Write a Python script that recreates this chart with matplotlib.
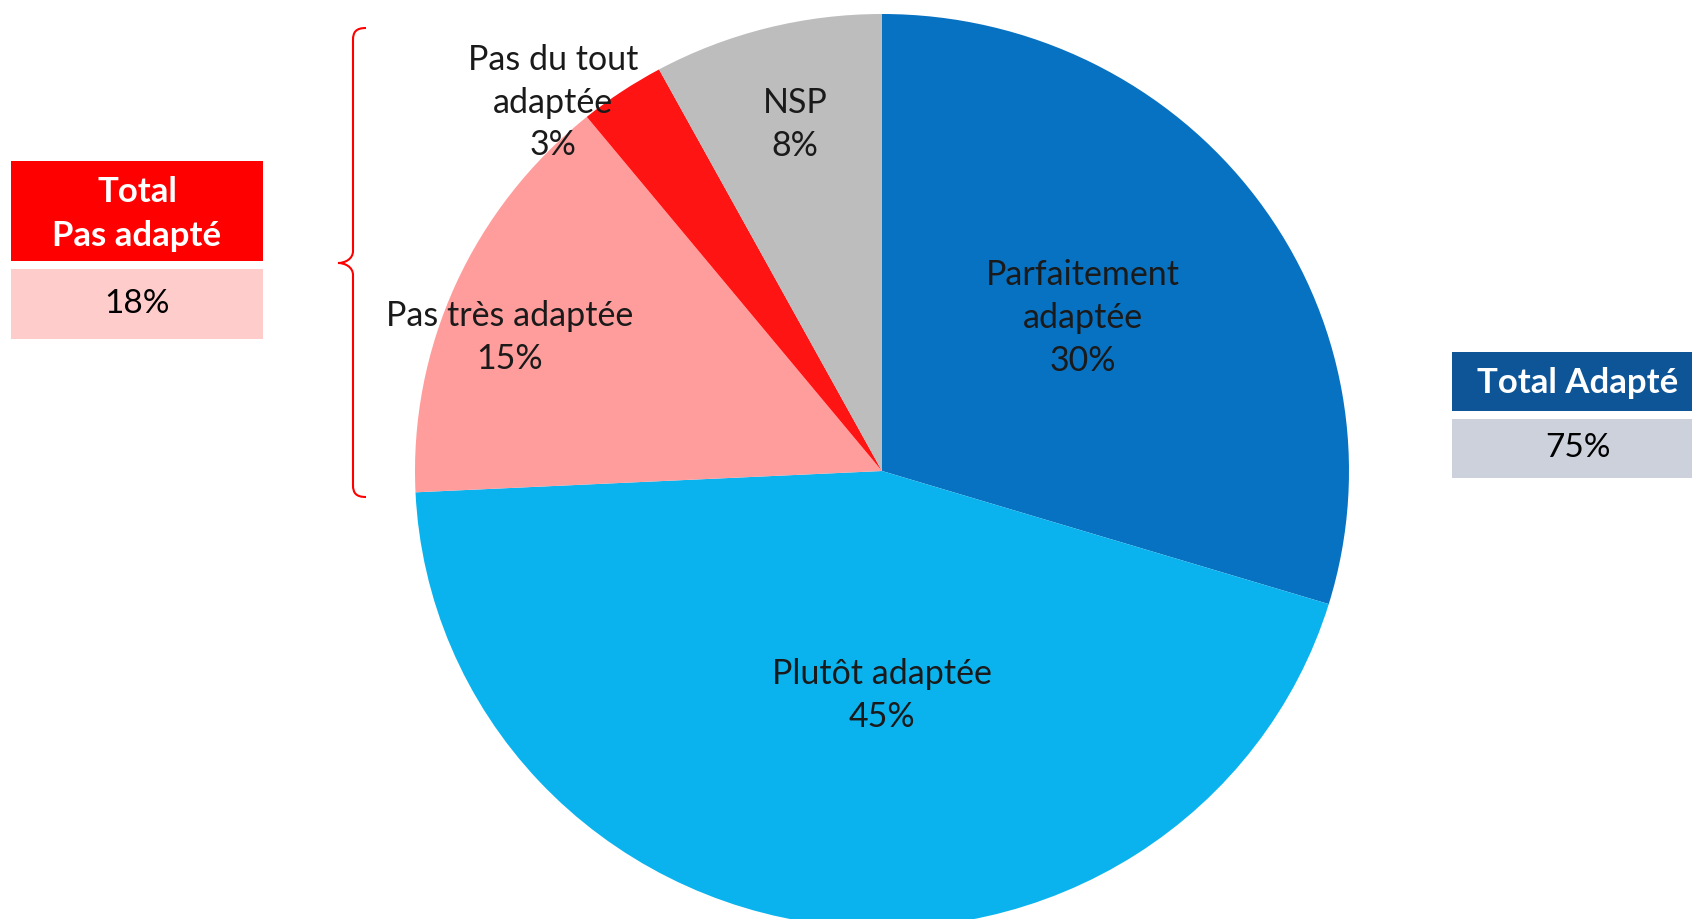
import numpy as np
import matplotlib.pyplot as plt
from matplotlib.patches import Rectangle
from matplotlib.path import Path
from matplotlib.patches import PathPatch

plt.rcParams['font.family'] = ['Lato', 'DejaVu Sans']

# data
labels = ['Parfaitement\nadaptée', 'Plutôt adaptée', 'Pas très adaptée', 'Pas du tout\nadaptée', 'NSP']
values = [30, 45, 15, 3, 8]
colors = ['#0872C2', '#0BB3EE', '#FF9C9C', '#FF1414', '#BDBDBD']
total_pas = '18%'
total_adapte = '75%'

# label placement: fraction of radius and angle nudge (deg)
lab_dist = [0.545, 0.492, 0.85, 1.071, 0.781]
lab_nudge = [1.3, 7, 4, 7.3, -0.5]

W, H = 1692, 919
fig = plt.figure(figsize=(W / 100, H / 100), dpi=100)

# background axes in pixel units for boxes and brace
ax = fig.add_axes([0, 0, 1, 1])
ax.set_xlim(0, W)
ax.set_ylim(0, H)
ax.axis('off')

# pie axes (slightly wider than tall, like the original)
cx, cy, rx, ry = 882, 471, 467, 457
pax = fig.add_axes([(cx - rx) / W, (H - cy - ry) / H, 2 * rx / W, 2 * ry / H])
wedges, _ = pax.pie(values, colors=colors, startangle=90, counterclock=False,
                    radius=1, wedgeprops=dict(edgecolor='none'))
pax.set_aspect('auto')
pax.set_xlim(-1, 1)
pax.set_ylim(-1, 1)
pax.axis('off')

for w, lab, v, d, n in zip(wedges, labels, values, lab_dist, lab_nudge):
    ang = np.radians((w.theta1 + w.theta2) / 2 + n)
    pax.text(d * np.cos(ang), d * np.sin(ang), f'{lab}\n{v}%', ha='center', va='center',
             fontsize=24.5, color='#1a1a1a', linespacing=1.42)

# left boxes
ax.add_patch(Rectangle((11, H - 261), 252, 100, facecolor='#FF0000', edgecolor='none'))
ax.text(137, H - 214, 'Total\nPas adapté', ha='center', va='center', fontsize=25,
        fontweight='bold', color='white', linespacing=1.45)
ax.add_patch(Rectangle((11, H - 339), 252, 70, facecolor='#FFCCCC', edgecolor='none'))
ax.text(137, H - 304, total_pas, ha='center', va='center', fontsize=24, color='black')

# right boxes
ax.add_patch(Rectangle((1452, H - 411), 240, 59, facecolor='#0D5597', edgecolor='none'))
ax.text(1578, H - 383, 'Total Adapté', ha='center', va='center', fontsize=25,
        fontweight='bold', color='white')
ax.add_patch(Rectangle((1452, H - 478), 240, 59, facecolor='#CDD1DC', edgecolor='none'))
ax.text(1578, H - 448, total_adapte, ha='center', va='center', fontsize=24, color='black')

# curly brace
bx, tip, top, mid, bot = 353, 338, H - 28, H - 263, H - 497
verts = [(366, top), (356, top), (bx, top - 4), (bx, top - 12),
         (bx, mid + 12), (bx, mid + 4), (345, mid), (tip, mid),
         (345, mid), (bx, mid - 4), (bx, mid - 12),
         (bx, bot + 12), (bx, bot + 4), (356, bot), (366, bot)]
codes = [Path.MOVETO, Path.CURVE4, Path.CURVE4, Path.CURVE4,
         Path.LINETO, Path.CURVE4, Path.CURVE4, Path.CURVE4,
         Path.CURVE4, Path.CURVE4, Path.CURVE4,
         Path.LINETO, Path.CURVE4, Path.CURVE4, Path.CURVE4]
ax.add_patch(PathPatch(Path(verts, codes), facecolor='none', edgecolor='#FF0000', lw=1.5))

fig.savefig('out.png', dpi=100)
